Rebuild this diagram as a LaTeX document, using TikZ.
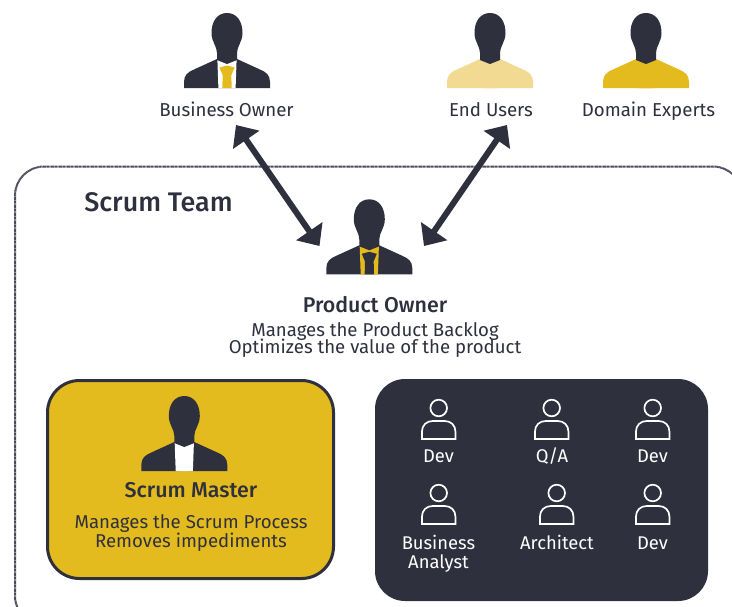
\documentclass[tikz,border=0pt]{standalone}
\usepackage{fontspec}
\setmainfont{Fira Sans}
\newfontfamily\medf{Fira Sans Medium}
\usetikzlibrary{arrows.meta}
\definecolor{navy}{HTML}{2E303E}
\definecolor{gold}{HTML}{E4BB1E}
\definecolor{palegold}{HTML}{F3DA92}
\definecolor{dotgray}{HTML}{4A4C58}
\tikzset{
  lab/.style={text=navy,font=\fontsize{18.7}{18.7}\selectfont,inner sep=0pt,anchor=base},
  sublab/.style={text=navy,font=\fontsize{18.6}{18.4}\selectfont,inner sep=0pt,anchor=base},
  headlab/.style={text=navy,font=\medf\fontsize{21.4}{21.4}\selectfont,inner sep=0pt,anchor=base},
  whitelab/.style={text=white,font=\fontsize{18.4}{19.5}\selectfont,inner sep=0pt,anchor=base},
  biglink/.style={navy,line width=6pt,{Triangle[length=18pt,width=31pt]}-{Triangle[length=18pt,width=31pt]},shorten <=0pt,shorten >=0pt},
  iconline/.style={white,line width=1.7pt},
}
% #1 centre x, #2 top y, #3 jacket, #4 shirt, #5 tie
\newcommand{\personfig}[5]{%
\begin{scope}[shift={(#1,#2)}]
  \fill[#3] (-10,46) -- (-33,56.5) .. controls (-39,59) and (-43,62) .. (-43,69) -- (-43,75) -- (43,75) -- (43,69) .. controls (43,62) and (39,59) .. (33,56.5) -- (10,46) -- cycle;
  \fill[#4] (-9.6,47) -- (9.6,47) -- (8.6,75) -- (-8.6,75) -- cycle;
  \fill[#5] (-7.5,54.5) -- (0,52.5) -- (7.5,54.5) -- (4.4,62) -- (4.6,75) -- (-4.6,75) -- (-4.4,62) -- cycle;
  \fill[navy] (0,0) .. controls (9.5,0) and (15.5,8) .. (15.5,20) .. controls (15.5,29) and (10,33) .. (10,40) -- (10,47) -- (0,51) -- (-10,47) -- (-10,40) .. controls (-10,33) and (-15.5,29) .. (-15.5,20) .. controls (-15.5,8) and (-9.5,0) .. (0,0) -- cycle;
\end{scope}}
% #1 centre x, #2 head centre y
\newcommand{\teamicon}[2]{%
\begin{scope}[shift={(#1,#2)}]
  \draw[iconline] (0,0) circle (8.3);
  \draw[iconline] (-16.8,31) -- (-16.8,24) .. controls (-16.8,17) and (-12,13) .. (-6,13) -- (6,13) .. controls (12,13) and (16.8,17) .. (16.8,24) -- (16.8,31) -- cycle;
\end{scope}}
\begin{document}
\begin{tikzpicture}[x=1pt,y=-1pt]
\useasboundingbox (0,0) rectangle (732,606);
\clip (0,0) rectangle (732,606);
\fill[white] (0,0) rectangle (732,606);
% team frame
\draw[dotgray,line width=2pt,dash pattern=on 1.2pt off 0.4pt,rounded corners=29pt] (15,166.5) rectangle (742,625);
% stakeholders
\personfig{227}{13}{navy}{white}{gold}
\personfig{490}{13}{palegold}{palegold}{palegold}
\personfig{646}{13}{gold}{gold}{gold}
\node[lab] (businessowner) at (226.5,116) {Business Owner};
\node[lab] (endusers) at (491,116) {End Users};
\node[lab] (domainexperts) at (648.5,116) {Domain Experts};
\node[text=navy,font=\medf\fontsize{26.9}{26.9}\selectfont,inner sep=0pt,anchor=base] (scrumteam) at (158.5,211) {Scrum Team};
% product owner
\personfig{369.3}{199.3}{navy}{gold}{navy}
\node[headlab] (productowner) at (375,312) {Product Owner};
\node[sublab] (poline1) at (375,336) {Manages the Product Backlog};
\node[sublab] (poline2) at (375,353.5) {Optimizes the value of the product};
% arrows
\coordinate (boend) at (236,125);
\coordinate (poleft) at (319.5,246);
\coordinate (euend) at (507,125);
\coordinate (poright) at (424,246);
\draw[biglink] (boend) -- (poleft);
\draw[biglink] (euend) -- (poright);
% scrum master
\node[draw=navy,fill=gold,line width=3pt,rounded corners=32pt,minimum width=286pt,minimum height=198pt,inner sep=0pt] (masterbox) at (190.5,479.5) {};
\personfig{184.3}{396}{navy}{white}{white}
\node[headlab] (scrummaster) at (191,497) {Scrum Master};
\node[sublab] (smline1) at (191,528) {Manages the Scrum Process};
\node[sublab] (smline2) at (191,547) {Removes impediments};
% dev team
\node[fill=navy,rounded corners=30pt,minimum width=333pt,minimum height=222pt,inner sep=0pt] (devbox) at (541.5,490) {};
\teamicon{438.7}{408}
\teamicon{551.7}{408}
\teamicon{652.7}{408}
\teamicon{438.7}{493}
\teamicon{556.7}{493}
\teamicon{652.7}{493}
\node[whitelab] (dev1) at (438.5,462) {Dev};
\node[whitelab] (qa) at (552,462) {Q/A};
\node[whitelab] (dev2) at (652.5,462) {Dev};
\node[whitelab] (analyst1) at (438.5,549) {Business};
\node[whitelab] (analyst2) at (438.5,568) {Analyst};
\node[whitelab] (architect) at (557,549) {Architect};
\node[whitelab] (dev3) at (652.5,549) {Dev};
\end{tikzpicture}
\end{document}
